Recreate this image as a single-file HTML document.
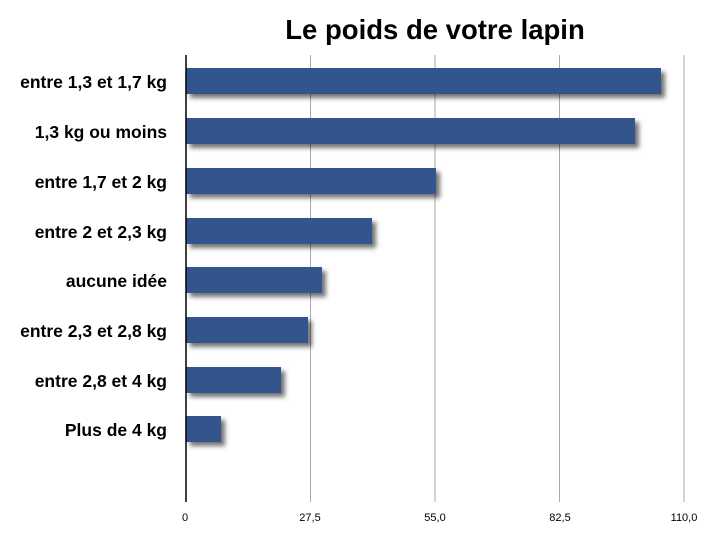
<!DOCTYPE html>
<html><head><meta charset="utf-8"><style>
body{margin:0;background:#fff;width:717px;height:533px;overflow:hidden;font-family:"Liberation Sans",sans-serif}
</style></head><body>
<svg width="717" height="533" xmlns="http://www.w3.org/2000/svg" font-family="Liberation Sans, sans-serif">
<defs><filter id="s" x="-10%" y="-50%" width="130%" height="250%"><feDropShadow dx="4" dy="4" stdDeviation="2.5" flood-color="#000" flood-opacity="0.55"/></filter></defs>
<text x="435" y="39" font-size="27.5" font-weight="bold" text-anchor="middle">Le poids de votre lapin</text>
<g stroke="#aaa" stroke-width="1">
<line x1="310.5" y1="55" x2="310.5" y2="502"/><line x1="435" y1="55" x2="435" y2="502"/><line x1="559.5" y1="55" x2="559.5" y2="502"/><line x1="684" y1="55" x2="684" y2="502"/>
</g>
<g fill="#30578c" filter="url(#s)">
<rect x="186" y="68" width="475" height="26"/>
<rect x="186" y="118" width="449" height="26"/>
<rect x="186" y="168" width="250" height="26"/>
<rect x="186" y="218" width="186" height="26"/>
<rect x="186" y="267" width="136" height="26"/>
<rect x="186" y="317" width="122" height="26"/>
<rect x="186" y="367" width="95" height="26"/>
<rect x="186" y="416" width="35" height="26"/>
</g>
<line x1="186" y1="55" x2="186" y2="502" stroke="#000" stroke-width="1.5"/>
<g font-size="17.5" font-weight="bold" text-anchor="end">
<text x="167" y="88">entre 1,3 et 1,7 kg</text>
<text x="167" y="138">1,3 kg ou moins</text>
<text x="167" y="188">entre 1,7 et 2 kg</text>
<text x="167" y="238">entre 2 et 2,3 kg</text>
<text x="167" y="287">aucune idée</text>
<text x="167" y="337">entre 2,3 et 2,8 kg</text>
<text x="167" y="387">entre 2,8 et 4 kg</text>
<text x="167" y="436">Plus de 4 kg</text>
</g>
<g font-size="11" text-anchor="middle">
<text x="185" y="521">0</text><text x="310" y="521">27,5</text><text x="435" y="521">55,0</text><text x="560" y="521">82,5</text><text x="684" y="521">110,0</text>
</g>
</svg>
</body></html>
